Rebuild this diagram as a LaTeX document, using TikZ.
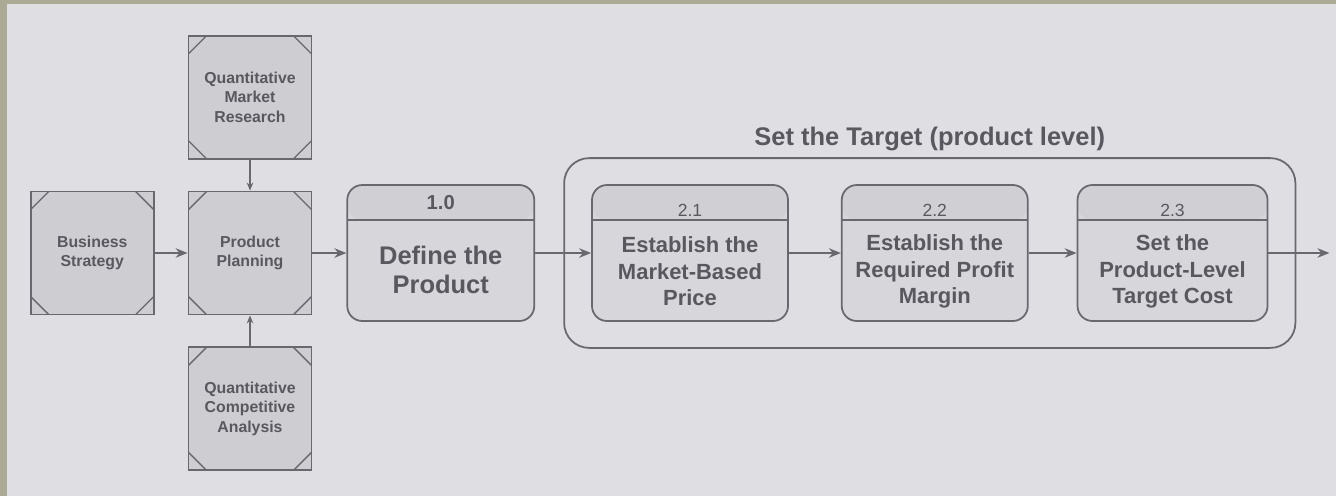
\documentclass[tikz,border=0pt]{standalone}
\usepackage{fontspec}
\setmainfont{Liberation Sans}
\usepackage{xcolor}
\definecolor{scanolive}{RGB}{171,170,148}
\definecolor{paper}{RGB}{222,222,227}
\definecolor{inkgray}{RGB}{104,104,110}
\definecolor{txtgray}{RGB}{88,88,94}
\definecolor{boxfill}{RGB}{205,205,210}
\definecolor{headfill}{RGB}{207,207,212}
\definecolor{bodyfill}{RGB}{214,214,219}
\usepackage{tikz}
\usetikzlibrary{arrows.meta, positioning, fit}
\tikzset{
  sqbox/.style={
    rectangle, draw=inkgray, fill=boxfill, line width=1pt,
    minimum width=2.46cm, minimum height=2.46cm,
    align=center, text=txtgray, font=\fontsize{9}{11}\selectfont\bfseries,
    path picture={
      \draw[inkgray, line width=0.8pt]
        ([yshift=-0.36cm]path picture bounding box.north west) -- ([xshift=0.36cm]path picture bounding box.north west)
        ([yshift=-0.36cm]path picture bounding box.north east) -- ([xshift=-0.36cm]path picture bounding box.north east)
        ([yshift=0.36cm]path picture bounding box.south west) -- ([xshift=0.36cm]path picture bounding box.south west)
        ([yshift=0.36cm]path picture bounding box.south east) -- ([xshift=-0.36cm]path picture bounding box.south east);
    }},
  procbox/.style={
    rectangle, draw=inkgray, fill=bodyfill, line width=1pt,
    minimum height=2.72cm, rounded corners=0.3cm,
    path picture={
      \fill[headfill] (path picture bounding box.north west)
        rectangle ([yshift=-0.7cm]path picture bounding box.north east);
      \draw[inkgray, line width=1pt]
        ([yshift=-0.7cm]path picture bounding box.north west) -- ([yshift=-0.7cm]path picture bounding box.north east);
    }},
  numtext/.style={text=txtgray, font=\fontsize{10}{12}\selectfont},
  steptext/.style={
    align=center, text=txtgray, font=\fontsize{12.5}{15}\selectfont\bfseries},
  group/.style={rectangle, draw=inkgray, line width=1pt, rounded corners=0.5cm},
  arr/.style={-{Stealth[length=2.4mm, width=1.9mm]}, line width=1pt, inkgray},
  smallarr/.style={-{Stealth[length=1.6mm, width=1.3mm]}, line width=0.9pt, inkgray},
}

\begin{document}
\begin{tikzpicture}
  \useasboundingbox (0,0) rectangle (26.72,-9.92);
  \fill[scanolive] (0,0) rectangle (26.72,-9.92);
  \fill[paper] (0.14,-0.08) rectangle (26.72,-9.92);

  \node[sqbox] (pp) at (5.0,-5.06) {Product\\Planning};
  \node[sqbox, left=0.66cm of pp] (bs) {Business\\Strategy};
  \node[sqbox, above=0.62cm of pp] (qmr) {Quantitative\\Market\\Research};
  \node[sqbox, below=0.62cm of pp] (qca) {Quantitative\\Competitive\\Analysis};

  \node[procbox, minimum width=3.74cm, right=0.68cm of pp] (def) {};
  \node[procbox, minimum width=3.92cm, right=1.12cm of def] (p21) {};
  \node[procbox, minimum width=3.72cm, right=1.04cm of p21] (p22) {};
  \node[procbox, minimum width=3.80cm, right=0.96cm of p22] (p23) {};

  \node[numtext, font=\fontsize{11.5}{14}\selectfont\bfseries]
    (n10) at ([yshift=-0.37cm]def.north) {1.0};
  \node[numtext, anchor=base] (n21) at ([yshift=-0.64cm]p21.north) {2.1};
  \node[numtext, anchor=base] (n22) at ([yshift=-0.64cm]p22.north) {2.2};
  \node[numtext, anchor=base] (n23) at ([yshift=-0.64cm]p23.north) {2.3};

  \node[steptext, font=\fontsize{14.5}{16.5}\selectfont\bfseries]
    (t10) at ([yshift=-0.34cm]def.center) {Define the\\Product};
  \node[steptext] (t21) at ([yshift=-0.37cm]p21.center)
    {Establish the\\Market-Based\\Price};
  \node[steptext] (t22) at ([yshift=-0.37cm]p22.center)
    {Establish the\\Required Profit\\Margin};
  \node[steptext] (t23) at ([yshift=-0.37cm]p23.center)
    {Set the\\Product-Level\\Target Cost};

  \node[group, fit=(p21)(p23), inner xsep=0.54cm, inner ysep=0.52cm] (target) {};
  \node[above=0pt of target, text=txtgray, font=\fontsize{14.5}{17}\selectfont\bfseries]
    (title) {Set the Target (product level)};

  \coordinate[right=1.22cm of p23] (out);

  \draw[arr] (bs) -- (pp);
  \draw[smallarr] (qmr) -- (pp);
  \draw[smallarr] (qca) -- (pp);
  \draw[arr] (pp) -- (def);
  \draw[arr] (def) -- (p21);
  \draw[arr] (p21) -- (p22);
  \draw[arr] (p22) -- (p23);
  \draw[arr] (p23) -- (out);
\end{tikzpicture}
\end{document}
